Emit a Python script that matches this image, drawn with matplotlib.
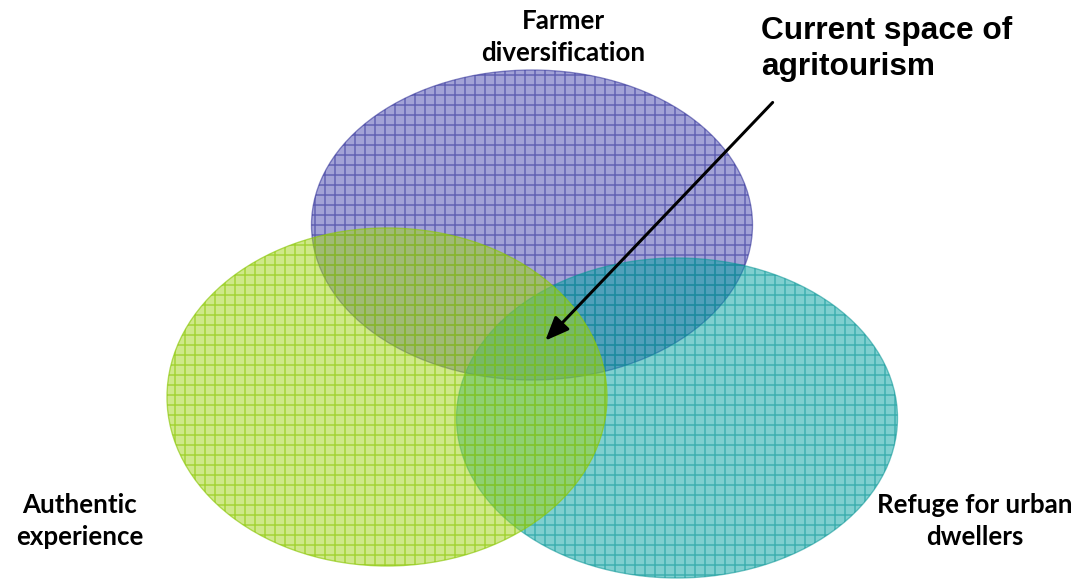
import matplotlib
matplotlib.use("Agg")
import matplotlib.pyplot as plt
from matplotlib.patches import Ellipse

# Data: set labels and ellipse geometry (pixel space, y downward)
set_names = ["Farmer\ndiversification", "Refuge for urban\ndwellers", "Authentic\nexperience"]
centers = [(532, 225), (677, 418), (387, 397)]
widths = [441, 441, 440]
heights = [310, 320, 338]
face_colors = [(70/255, 70/255, 175/255, 0.5), (0/255, 160/255, 160/255, 0.5), (160/255, 210/255, 20/255, 0.5)]
hatch_colors = [(45/255, 45/255, 150/255, 0.55), (10/255, 150/255, 150/255, 0.55), (140/255, 200/255, 10/255, 0.65)]
label_pos = [(563, 37), (975, 521), (80, 521)]
callout = "Current space of\nagritourism"

plt.rcParams['hatch.linewidth'] = 0.9
DPI = 120
fig = plt.figure(figsize=(1083 / DPI, 580 / DPI), dpi=DPI)
ax = fig.add_axes([0, 0, 1, 1])
ax.set_xlim(0, 1083)
ax.set_ylim(580, 0)
ax.axis('off')

for c, w, h, fc, hc in zip(centers, widths, heights, face_colors, hatch_colors):
    ax.add_patch(Ellipse(c, w, h, facecolor=fc, edgecolor='none', lw=0))
    ax.add_patch(Ellipse(c, w, h, facecolor='none', edgecolor=hc, hatch='++', lw=0.8))

for name, (x, y) in zip(set_names, label_pos):
    ax.text(x, y, name, ha='center', va='center', fontsize=15.5, fontweight='bold',
            family='Lato', linespacing=1.4)

ax.text(761, 49, callout, ha='left', va='center', fontsize=19, fontweight='bold',
        family='Liberation Sans', linespacing=1.3)

ax.annotate('', xy=(543, 343), xytext=(775, 100),
            arrowprops=dict(arrowstyle='-|>,head_length=1.2,head_width=0.5', color='black', lw=1.8))

fig.savefig('out.png', dpi=DPI)
